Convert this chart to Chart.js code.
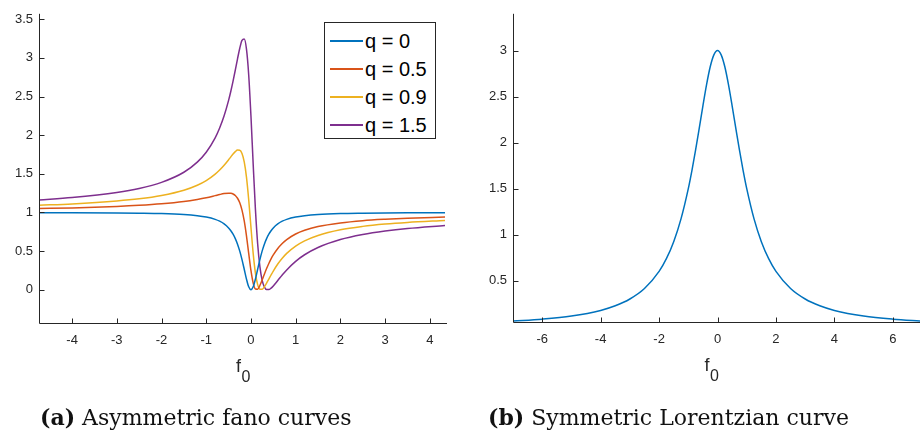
<!DOCTYPE html>
<html>
<head>
<meta charset="utf-8">
<script src="https://cdn.jsdelivr.net/npm/chart.js@4.4.1/dist/chart.umd.min.js"></script>
<style>
  body { margin:0; background:#fff; width:920px; height:434px; overflow:hidden; position:relative; }
  canvas { position:absolute; top:0; }
  #fano { left:0; }
  #lorentz { left:460px; }
  .legend { position:absolute; left:324px; top:22px; width:110px; height:115px; border:1px solid #262626; background:#fff; font-family:"Liberation Sans", Arial, sans-serif; font-size:20px; color:#000; }
  .legend .row { position:absolute; left:0; width:100%; height:22px; line-height:22px; white-space:nowrap; }
  .legend .sw { position:absolute; left:5px; top:10px; width:33px; height:2px; }
  .legend .tx { position:absolute; left:40px; top:0; }
  .caption { position:absolute; top:404px; font-family:"DejaVu Serif", serif; font-size:22px; color:#111; white-space:nowrap; line-height:26px; }
</style>
</head>
<body>
<canvas id="fano" width="460" height="434"></canvas>
<canvas id="lorentz" width="460" height="434"></canvas>
<div class="legend" id="legend"></div>
<div class="caption" style="left:40px"><b>(a)</b> Asymmetric fano curves</div>
<div class="caption" style="left:488px"><b>(b)</b> Symmetric Lorentzian curve</div>
<script>
// ---- data: Fano line shapes for several q, sampled along f0
var fanoX = [-4.74,-4,-3,-2.5,-2,-1.5,-1.2,-1,-0.8,-0.7,-0.6,-0.5,-0.45,-0.4,-0.35,-0.3,-0.25,-0.2,-0.15,-0.1,-0.05,0,
             0.05,0.1,0.15,0.2,0.25,0.3,0.35,0.4,0.45,0.5,0.6,0.7,0.8,1,1.2,1.5,2,2.5,3,3.5,4.34];
var fanoQ0  = [0.997,0.996,0.993,0.990,0.985,0.973,0.958,0.941,0.911,0.887,0.852,0.800,0.764,0.719,0.662,0.590,0.500,0.390,0.265,0.138,0.038,0,
               0.038,0.138,0.265,0.390,0.500,0.590,0.662,0.719,0.764,0.800,0.852,0.887,0.911,0.941,0.958,0.973,0.985,0.990,0.993,0.995,0.997];
var fanoQ05 = [1.051,1.059,1.078,1.092,1.112,1.142,1.169,1.191,1.218,1.232,1.244,1.250,1.248,1.239,1.220,1.184,1.125,1.031,0.890,0.698,0.471,0.250,
               0.087,0.009,0.007,0.055,0.125,0.201,0.274,0.340,0.399,0.450,0.534,0.598,0.649,0.721,0.769,0.818,0.865,0.894,0.912,0.925,0.940];
var fanoQ09 = [1.094,1.111,1.148,1.176,1.219,1.287,1.352,1.412,1.496,1.549,1.611,1.682,1.719,1.756,1.787,1.807,1.805,1.762,1.654,1.457,1.164,0.810,
               0.471,0.216,0.066,0.006,0.005,0.037,0.085,0.138,0.191,0.242,0.333,0.408,0.471,0.565,0.633,0.703,0.776,0.820,0.850,0.871,0.896];
var fanoQ15 = [1.161,1.192,1.257,1.309,1.389,1.520,1.651,1.779,1.965,2.092,2.250,2.450,2.568,2.699,2.841,2.988,3.125,3.226,3.243,3.112,2.779,2.250,
               1.625,1.043,0.596,0.299,0.125,0.037,0.003,0.003,0.021,0.050,0.120,0.191,0.257,0.368,0.453,0.547,0.650,0.715,0.760,0.793,0.832];
var fanoLabels = ['q = 0', 'q = 0.5', 'q = 0.9', 'q = 1.5'];
var fanoTicksX = [-4,-3,-2,-1,0,1,2,3,4];
var fanoTicksY = [0,0.5,1,1.5,2,2.5,3,3.5];

// ---- data: Lorentzian
var lorX = [-7,-6,-5,-4,-3.5,-3,-2.5,-2,-1.75,-1.5,-1.25,-1,-0.875,-0.75,-0.625,-0.5,-0.375,-0.25,-0.125,0,
            0.125,0.25,0.375,0.5,0.625,0.75,0.875,1,1.25,1.5,1.75,2,2.5,3,3.5,4,5,6,7];
var lorY = [0.060,0.081,0.115,0.176,0.226,0.300,0.414,0.600,0.738,0.923,1.171,1.500,1.699,1.920,2.157,2.400,2.630,2.824,2.954,3.000,
            2.954,2.824,2.630,2.400,2.157,1.920,1.699,1.500,1.171,0.923,0.738,0.600,0.414,0.300,0.226,0.176,0.115,0.081,0.060];
var lorTicksX = [-6,-4,-2,0,2,4,6];
var lorTicksY = [0.5,1,1.5,2,2.5,3];

var colors = ['#0072BD', '#D95319', '#EDB120', '#7E2F8E'];
var axisColor = '#262626';
var tickFont = { family: '"Liberation Sans", Arial, sans-serif', size: 13 };

function pts(xs, ys) {
  return xs.map(function(x, i){ return { x: x, y: ys[i] }; });
}

// matlab-ish axes: left/bottom lines, inward ticks, f_0 label
var matlabAxes = {
  id: 'matlabAxes',
  afterDraw: function(chart, args, opts) {
    var ctx = chart.ctx, a = chart.chartArea, sx = chart.scales.x, sy = chart.scales.y;
    ctx.save();
    ctx.strokeStyle = axisColor;
    ctx.lineWidth = 1;
    ctx.beginPath();
    var l = Math.round(a.left) + 0.5, b = Math.round(a.bottom) + 0.5;
    ctx.moveTo(l, a.top);
    ctx.lineTo(l, b);
    ctx.lineTo(a.right + 2, b);
    sx.ticks.forEach(function(t){
      var px = Math.round(sx.getPixelForValue(t.value)) + 0.5;
      ctx.moveTo(px, b); ctx.lineTo(px, b - 5);
    });
    sy.ticks.forEach(function(t){
      var py = Math.round(sy.getPixelForValue(t.value)) + 0.5;
      ctx.moveTo(l, py); ctx.lineTo(l + 5, py);
    });
    ctx.stroke();

    // axis title f with subscript 0
    var cx = (a.left + a.right) / 2 + (opts.dx || 0);
    ctx.fillStyle = axisColor;
    ctx.textBaseline = 'alphabetic';
    ctx.textAlign = 'left';
    ctx.font = '18px "Liberation Sans", Arial, sans-serif';
    var wf = ctx.measureText('f').width;
    ctx.font = '16px "Liberation Sans", Arial, sans-serif';
    var w0 = ctx.measureText('0').width;
    var x0 = cx - (wf + w0) / 2;
    ctx.font = '18px "Liberation Sans", Arial, sans-serif';
    ctx.fillText('f', x0, a.bottom + 49);
    ctx.font = '16px "Liberation Sans", Arial, sans-serif';
    ctx.fillText('0', x0 + wf + 0.5, a.bottom + 59);
    ctx.restore();
  }
};

function axisOpts(min, max, ticks, pad, fit) {
  return {
    type: 'linear', min: min, max: max,
    grid: { display: false, drawTicks: false },
    border: { display: false },
    afterBuildTicks: function(scale){ scale.ticks = ticks.map(function(v){ return { value: v }; }); },
    afterFit: fit,
    ticks: { font: tickFont, color: axisColor, padding: pad, autoSkip: false, maxRotation: 0,
             callback: function(v){ return String(v); } }
  };
}

var fanoSeries = [fanoQ0, fanoQ05, fanoQ09, fanoQ15];

new Chart(document.getElementById('fano'), {
  type: 'line',
  data: {
    datasets: fanoSeries.map(function(ys, i){
      return { label: fanoLabels[i], data: pts(fanoX, ys), borderColor: colors[i], borderWidth: 1.5,
               pointRadius: 0, cubicInterpolationMode: 'monotone', fill: false };
    })
  },
  options: {
    responsive: false, animation: false, events: [],
    layout: { padding: { top: 7, right: 15, left: 0, bottom: 0 } },
    plugins: { legend: { display: false }, tooltip: { enabled: false }, matlabAxes: { dx: 1 } },
    scales: {
      x: axisOpts(-4.74, 4.34, fanoTicksX, 10, function(s){ s.height = 111; }),
      y: axisOpts(-0.43, 3.57, fanoTicksY, 6, function(s){ s.width = 39; })
    }
  },
  plugins: [matlabAxes]
});

new Chart(document.getElementById('lorentz'), {
  type: 'line',
  data: {
    datasets: [{ label: 'Lorentzian', data: pts(lorX, lorY), borderColor: colors[0], borderWidth: 1.5,
                 pointRadius: 0, cubicInterpolationMode: 'monotone', fill: false }]
  },
  options: {
    responsive: false, animation: false, events: [],
    layout: { padding: { top: 12, right: 0, left: 0, bottom: 0 } },
    plugins: { legend: { display: false }, tooltip: { enabled: false }, matlabAxes: { dx: -5 } },
    scales: {
      x: axisOpts(-7, 6.93, lorTicksX, 10, function(s){ s.height = 112; }),
      y: axisOpts(0.05, 3.4, lorTicksY, 6, function(s){ s.width = 53; })
    }
  },
  plugins: [matlabAxes]
});

// legend box for the fano panel
var leg = document.getElementById('legend');
fanoLabels.forEach(function(lab, i){
  var row = document.createElement('div');
  row.className = 'row';
  row.style.top = (7 + i * 28) + 'px';
  row.innerHTML = '<span class="sw" style="background:' + colors[i] + '"></span><span class="tx">' + lab + '</span>';
  leg.appendChild(row);
});
</script>
</body>
</html>
